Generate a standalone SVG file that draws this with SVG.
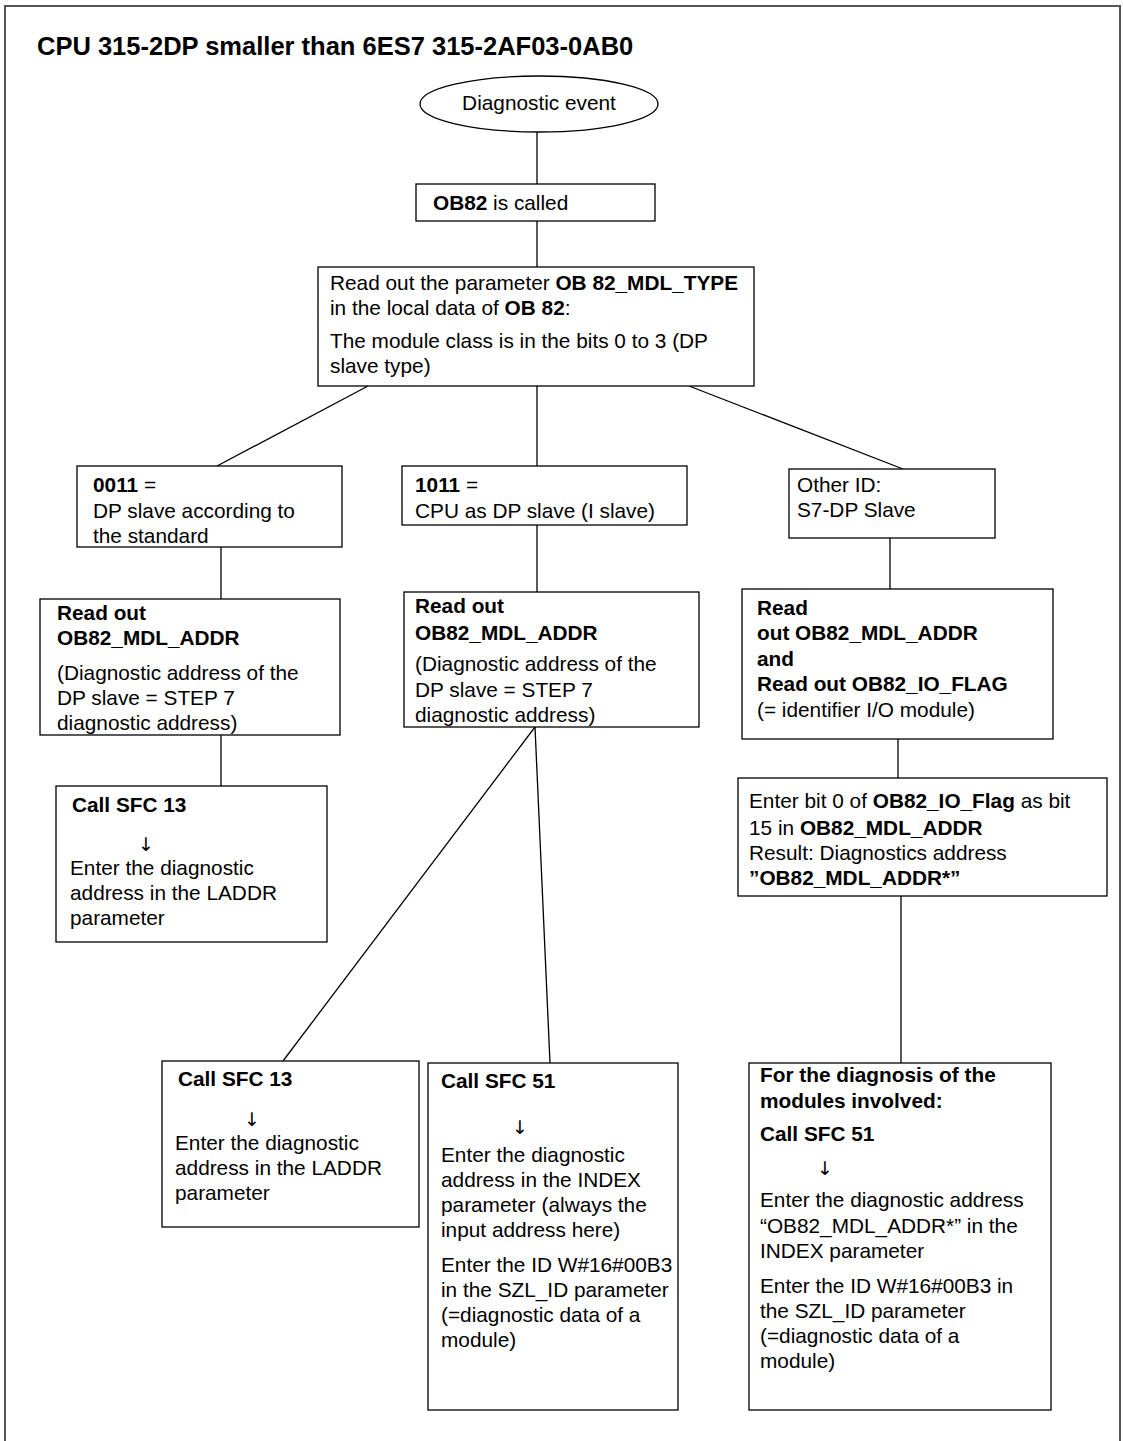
<svg xmlns="http://www.w3.org/2000/svg" width="1123" height="1441" viewBox="0 0 1123 1441">
<style>
text{font-family:"Liberation Sans",Arial,sans-serif;font-size:20.8px;fill:#000}
.b{font-weight:bold}
.t{font-size:25.5px;font-weight:bold}
.box{fill:#fff;stroke:#000;stroke-width:1.3}
.ln{stroke:#000;stroke-width:1.3;fill:none}
.frame{fill:#fff;stroke:#555;stroke-width:2}
.ar{text-anchor:middle;font-family:"DejaVu Sans",sans-serif;font-size:19px;fill:#000}
</style>
<rect class="frame" x="5" y="6" width="1115" height="1450"/>
<text class="t" x="37" y="55">CPU 315-2DP smaller than 6ES7 315-2AF03-0AB0</text>

<g id="connectors">
<line class="ln" x1="537" y1="132" x2="537" y2="184"/>
<line class="ln" x1="537" y1="221" x2="537" y2="267"/>
<line class="ln" x1="368" y1="386" x2="217" y2="466"/>
<line class="ln" x1="537" y1="386" x2="537" y2="466"/>
<line class="ln" x1="689" y1="386" x2="903" y2="469"/>
<line class="ln" x1="221" y1="547" x2="221" y2="599"/>
<line class="ln" x1="221" y1="735" x2="221" y2="786"/>
<line class="ln" x1="537" y1="525" x2="537" y2="592"/>
<line class="ln" x1="535" y1="727" x2="283" y2="1061"/>
<line class="ln" x1="535" y1="727" x2="550" y2="1063"/>
<line class="ln" x1="890" y1="538" x2="890" y2="589"/>
<line class="ln" x1="898" y1="739" x2="898" y2="778"/>
<line class="ln" x1="901" y1="896" x2="901" y2="1063"/>
</g>

<g id="n-event">
<ellipse class="box" cx="539" cy="104" rx="119" ry="28"/>
<text x="539" y="110" text-anchor="middle">Diagnostic event</text>
</g>

<g id="n-ob82">
<rect class="box" x="416" y="184" width="239" height="37"/>
<text x="433" y="210"><tspan class="b">OB82</tspan> is called</text>
</g>

<g id="n-read-type">
<rect class="box" x="318" y="267" width="436" height="119"/>
<text x="330" y="290">Read out the parameter <tspan class="b">OB 82_MDL_TYPE</tspan></text>
<text x="330" y="315">in the local data of <tspan class="b">OB 82</tspan>:</text>
<text x="330" y="348">The module class is in the bits 0 to 3 (DP</text>
<text x="330" y="373">slave type)</text>
</g>

<g id="n-0011">
<rect class="box" x="77" y="466" width="265" height="81"/>
<text x="93" y="492"><tspan class="b">0011</tspan> =</text>
<text x="93" y="518">DP slave according to</text>
<text x="93" y="543">the standard</text>
</g>

<g id="n-1011">
<rect class="box" x="402" y="466" width="285" height="59"/>
<text x="415" y="492"><tspan class="b">1011</tspan> =</text>
<text x="415" y="518">CPU as DP slave (I slave)</text>
</g>

<g id="n-other">
<rect class="box" x="789" y="469" width="206" height="69"/>
<text x="797" y="492">Other ID:</text>
<text x="797" y="517">S7-DP Slave</text>
</g>

<g id="n-read-left">
<rect class="box" x="40" y="599" width="300" height="136"/>
<text class="b" x="57" y="620">Read out</text>
<text class="b" x="57" y="645">OB82_MDL_ADDR</text>
<text x="57" y="680">(Diagnostic address of the</text>
<text x="57" y="705">DP slave = STEP 7</text>
<text x="57" y="730">diagnostic address)</text>
</g>

<g id="n-read-mid">
<rect class="box" x="404" y="592" width="295" height="135"/>
<text class="b" x="415" y="613">Read out</text>
<text class="b" x="415" y="640">OB82_MDL_ADDR</text>
<text x="415" y="671">(Diagnostic address of the</text>
<text x="415" y="697">DP slave = STEP 7</text>
<text x="415" y="722">diagnostic address)</text>
</g>

<g id="n-read-right">
<rect class="box" x="742" y="589" width="311" height="150"/>
<text class="b" x="757" y="615">Read</text>
<text class="b" x="757" y="640">out OB82_MDL_ADDR</text>
<text class="b" x="757" y="666">and</text>
<text class="b" x="757" y="691">Read out OB82_IO_FLAG</text>
<text x="757" y="717">(= identifier I/O module)</text>
</g>

<g id="n-sfc13-left">
<rect class="box" x="56" y="786" width="271" height="156"/>
<text class="b" x="72" y="812">Call SFC 13</text>
<text class="ar" x="146" y="851">↓</text>
<text x="70" y="875">Enter the diagnostic</text>
<text x="70" y="900">address in the LADDR</text>
<text x="70" y="925">parameter</text>
</g>

<g id="n-enterbit">
<rect class="box" x="738" y="778" width="369" height="118"/>
<text x="749" y="808">Enter bit 0 of <tspan class="b">OB82_IO_Flag</tspan> as bit</text>
<text x="749" y="835">15 in <tspan class="b">OB82_MDL_ADDR</tspan></text>
<text x="749" y="860">Result: Diagnostics address</text>
<text class="b" x="749" y="885">”OB82_MDL_ADDR*”</text>
</g>

<g id="n-sfc13-mid">
<rect class="box" x="162" y="1061" width="257" height="166"/>
<text class="b" x="178" y="1086">Call SFC 13</text>
<text class="ar" x="252" y="1126">↓</text>
<text x="175" y="1150">Enter the diagnostic</text>
<text x="175" y="1175">address in the LADDR</text>
<text x="175" y="1200">parameter</text>
</g>

<g id="n-sfc51-mid">
<rect class="box" x="428" y="1063" width="250" height="347"/>
<text class="b" x="441" y="1088">Call SFC 51</text>
<text class="ar" x="520" y="1134">↓</text>
<text x="441" y="1162">Enter the diagnostic</text>
<text x="441" y="1187">address in the INDEX</text>
<text x="441" y="1212">parameter (always the</text>
<text x="441" y="1237">input address here)</text>
<text x="441" y="1272">Enter the ID W#16#00B3</text>
<text x="441" y="1297">in the SZL_ID parameter</text>
<text x="441" y="1322">(=diagnostic data of a</text>
<text x="441" y="1347">module)</text>
</g>

<g id="n-sfc51-right">
<rect class="box" x="749" y="1063" width="302" height="347"/>
<text class="b" x="760" y="1082">For the diagnosis of the</text>
<text class="b" x="760" y="1108">modules involved:</text>
<text class="b" x="760" y="1141">Call SFC 51</text>
<text class="ar" x="825" y="1175">↓</text>
<text x="760" y="1207">Enter the diagnostic address</text>
<text x="760" y="1233">“OB82_MDL_ADDR*” in the</text>
<text x="760" y="1258">INDEX parameter</text>
<text x="760" y="1293">Enter the ID W#16#00B3 in</text>
<text x="760" y="1318">the SZL_ID parameter</text>
<text x="760" y="1343">(=diagnostic data of a</text>
<text x="760" y="1368">module)</text>
</g>
</svg>
